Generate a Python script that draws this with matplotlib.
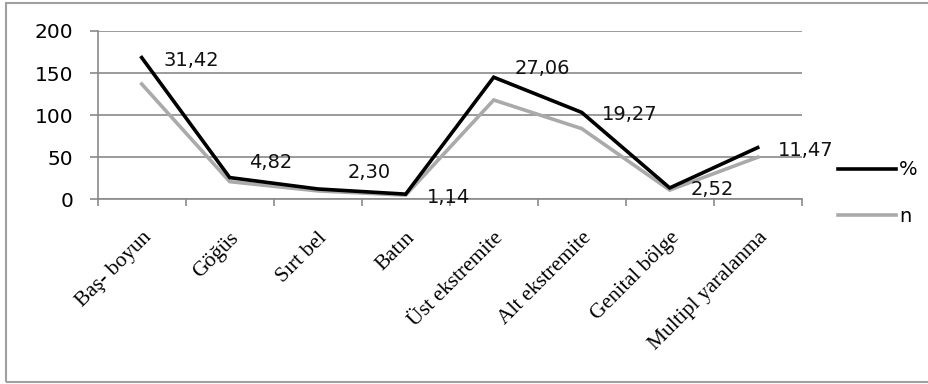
import matplotlib
matplotlib.use("Agg")
import matplotlib.pyplot as plt
from matplotlib.patches import Rectangle

# body regions, counts and percentages (stacked line chart: % drawn on top of n)
regions = ["Baş- boyun", "Göğüs", "Sırt bel", "Batın", "Üst ekstremite",
           "Alt ekstremite", "Genital bölge", "Multipl yaralanma"]
n = [137, 21, 10, 5, 118, 84, 11, 50]
pct = [31.42, 4.82, 2.30, 1.14, 27.06, 19.27, 2.52, 11.47]
pct_labels = ["31,42", "4,82", "2,30", "1,14", "27,06", "19,27", "2,52", "11,47"]
yticks = [0, 50, 100, 150, 200]

# label offsets in pixels (right of point, as excel placed them)
lab_off = [(22, -3), (19, 15), (30, 16), (21, -3), (21, 9), (20, -2), (21, -2), (20, -3)]

fig = plt.figure(figsize=(9.29, 3.84), dpi=100)
fig.add_artist(Rectangle((6/929, 2/384), 1.0, 379/384, transform=fig.transFigure,
                         fill=False, edgecolor="#a0a0a0", linewidth=1.5))

ax = fig.add_axes([97.7/929, 184.7/384, 704/929, 168.3/384])

x = [i + 0.5 for i in range(len(regions))]
stacked = [a + b for a, b in zip(n, pct)]

ax.plot(x, n, color="#aaaaaa", lw=2.6, solid_joinstyle="miter", label="n", zorder=3)
ax.plot(x, stacked, color="black", lw=2.6, solid_joinstyle="miter", label="%", zorder=4)

for xi, yi, txt, off in zip(x, stacked, pct_labels, lab_off):
    ax.annotate(txt, (xi, yi), xytext=off, textcoords="offset pixels",
                ha="left", va="center", fontsize=14, family="DejaVu Sans", color="#111111")

ax.set_xlim(0, 8)
ax.set_ylim(0, 200)
ax.set_yticks(yticks)
ax.yaxis.grid(True, color="#8a8a8a", lw=1.2)
ax.set_axisbelow(True)

ax.set_xticks(range(9))
ax.set_xticklabels([])
ax.set_xticks(x, minor=True)
ax.set_xticklabels(regions, minor=True, rotation=45, ha="right", va="top",
                   rotation_mode="anchor", family="Liberation Serif", fontsize=15.5)
ax.tick_params(axis="x", which="major", length=5, color="#8a8a8a", width=1.2)
ax.tick_params(axis="x", which="minor", length=0, pad=21)
ax.tick_params(axis="y", length=5.5, color="#8a8a8a", width=1.2, labelsize=14.5, pad=12)

for s in ["top", "right"]:
    ax.spines[s].set_visible(False)
for s in ["left", "bottom"]:
    ax.spines[s].set_color("#8a8a8a")
    ax.spines[s].set_linewidth(1.2)

handles, labels = ax.get_legend_handles_labels()
fig.legend(handles[::-1], labels[::-1], loc="center left", bbox_to_anchor=(838/929, 191/384),
           frameon=False, handlelength=3.0, handletextpad=0.15, labelspacing=1.4,
           borderpad=0, borderaxespad=0, prop={"family": "DejaVu Sans", "size": 14})

fig.savefig("out.png", dpi=100)
